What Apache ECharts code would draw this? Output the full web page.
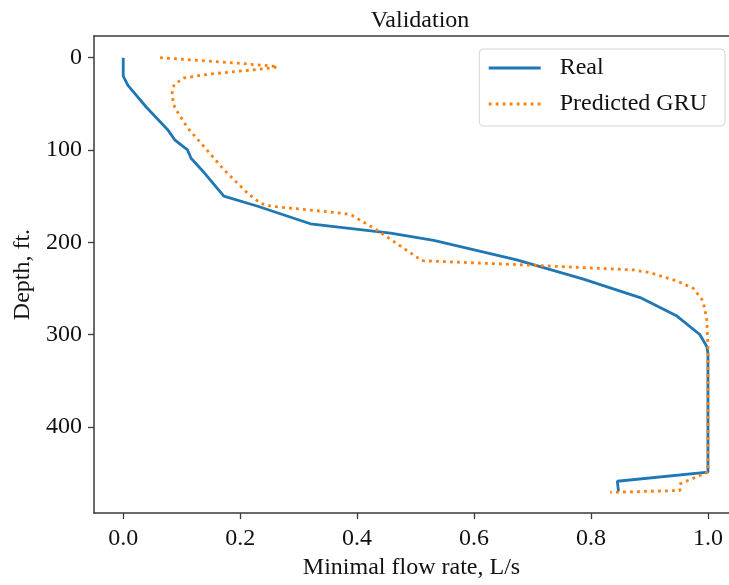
<!DOCTYPE html>
<html>
<head>
<meta charset="utf-8">
<script src="https://cdn.jsdelivr.net/npm/echarts@6/dist/echarts.min.js"></script>
<style>
  html, body { margin: 0; padding: 0; background: #fff; }
  #chart { width: 729px; height: 585px; }
</style>
</head>
<body>
<div id="chart"></div>
<script>
// measured real flow rate vs depth
const realRate = [0.000, 0.000, 0.008, 0.040, 0.076, 0.088, 0.110, 0.116, 0.139, 0.172, 0.230, 0.320, 0.457, 0.531, 0.673, 0.787, 0.884, 0.947, 0.986, 0.998, 1.000, 1.000, 0.845, 0.847];
const realDepth = [0, 20, 30, 54, 78, 89, 100, 109, 125, 150, 161, 180, 190, 198, 219, 240, 260, 280, 300, 313, 320, 449, 459, 470];

// GRU prediction
const predRate = [0.063, 0.196, 0.253, 0.264, 0.241, 0.144, 0.104, 0.087, 0.083, 0.088, 0.110, 0.139, 0.173, 0.213, 0.235, 0.253, 0.366, 0.389, 0.432, 0.511, 0.702, 0.873, 0.901, 0.947, 0.975, 0.992, 0.998, 1.000, 1.000, 0.952, 0.952, 0.833];
const predDepth = [0, 6, 9, 10, 12, 18, 22, 29, 40, 54, 76, 97, 122, 147, 158, 161, 168, 170, 186, 220, 225, 230, 233, 242, 250, 264, 284, 313, 449, 462, 469, 471];

const xTicks = [0, 0.2, 0.4, 0.6, 0.8, 1.0];
const yTicks = [0, 100, 200, 300, 400];

const FONT = 'Liberation Serif';
const AXIS_COLOR = '#3a3a3a';
const X_MIN = -0.05, X_MAX = 1.036;

const chart = echarts.init(document.getElementById('chart'));

const realData = realRate.map((v, i) => [v, realDepth[i]]);
const predData = predRate.map((v, i) => [v, predDepth[i]]);

chart.setOption({
  animation: false,
  textStyle: { fontFamily: FONT },
  title: {
    text: 'Validation',
    left: 415,
    top: 4,
    textAlign: 'center',
    textStyle: { fontFamily: FONT, fontSize: 24, fontWeight: 'normal', color: '#111' }
  },
  grid: {
    left: 94,
    right: 0,
    top: 36,
    bottom: 69,
    show: false
  },
  legend: {
    orient: 'vertical',
    right: 4,
    top: 49,
    padding: [7, 18, 10, 8],
    itemGap: 12,
    itemWidth: 52,
    itemHeight: 14,
    borderColor: '#d4d4d4',
    borderWidth: 1,
    borderRadius: 4,
    itemStyle: { opacity: 0 },
    lineStyle: { width: 2.8 },
    textStyle: { fontFamily: FONT, fontSize: 24, color: '#111', padding: [0, 0, 0, 14] },
    data: ['Real', 'Predicted GRU']
  },
  xAxis: [
    {
      type: 'value',
      min: X_MIN,
      max: X_MAX,
      name: 'Minimal flow rate, L/s',
      nameLocation: 'middle',
      nameGap: 40,
      nameTextStyle: { fontFamily: FONT, fontSize: 24, color: '#111' },
      axisLine: { show: true, onZero: false, lineStyle: { color: AXIS_COLOR, width: 1.5 } },
      axisTick: { show: true, length: 6, lineStyle: { color: AXIS_COLOR, width: 1.3 }, customValues: xTicks },
      axisLabel: {
        fontFamily: FONT, fontSize: 24, color: '#111', margin: 14,
        customValues: xTicks,
        formatter: v => v.toFixed(1)
      },
      splitLine: { show: false }
    },
    {
      // top spine only
      type: 'value',
      position: 'top',
      min: X_MIN,
      max: X_MAX,
      axisLine: { show: true, onZero: false, lineStyle: { color: AXIS_COLOR, width: 1.5 } },
      axisTick: { show: false },
      axisLabel: { show: false },
      splitLine: { show: false }
    }
  ],
  yAxis: {
    type: 'value',
    inverse: true,
    min: -23.5,
    max: 493.5,
    name: 'Depth, ft.',
    nameLocation: 'middle',
    nameGap: 54,
    nameRotate: 90,
    nameTextStyle: { fontFamily: FONT, fontSize: 24, color: '#111' },
    axisLine: { show: true, onZero: false, lineStyle: { color: AXIS_COLOR, width: 1.5 } },
    axisTick: { show: true, length: 6, lineStyle: { color: AXIS_COLOR, width: 1.3 }, customValues: yTicks },
    axisLabel: {
      fontFamily: FONT, fontSize: 24, color: '#111', margin: 12,
      customValues: yTicks
    },
    splitLine: { show: false }
  },
  series: [
    {
      name: 'Real',
      type: 'line',
      data: realData,
      symbol: 'none',
      lineStyle: { color: '#1f77b4', width: 2.8 },
      itemStyle: { color: '#1f77b4' },
      z: 2
    },
    {
      name: 'Predicted GRU',
      type: 'line',
      data: predData,
      symbol: 'none',
      lineStyle: { color: '#ff7f0e', width: 2.8, type: [2.8, 4.2] },
      itemStyle: { color: '#ff7f0e' },
      z: 3
    }
  ]
});
</script>
</body>
</html>
